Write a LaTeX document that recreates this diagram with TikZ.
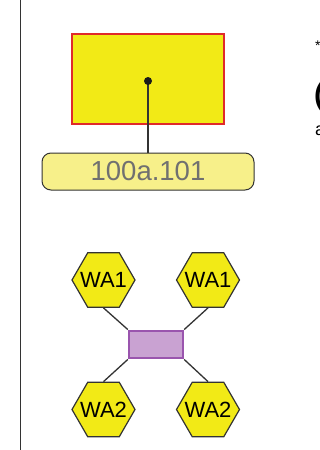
\documentclass[tikz,border=0pt]{standalone}
\usepackage{fontspec}
\setmainfont{Liberation Sans}
\usetikzlibrary{shapes.geometric}
\definecolor{boxyellow}{HTML}{F2EA16}
\definecolor{boxred}{HTML}{E02A2A}
\definecolor{labyellow}{HTML}{F7F08A}
\definecolor{labtext}{HTML}{707070}
\definecolor{purfill}{HTML}{C9A2D2}
\definecolor{purdraw}{HTML}{9A55AE}
\definecolor{edgegray}{HTML}{333333}
\tikzset{
  hexnode/.style={regular polygon, regular polygon sides=6, minimum size=63pt, inner sep=0pt,
    fill=boxyellow, draw=edgegray, line width=1.2pt,
    label={[font=\fontsize{22}{22}\selectfont, inner sep=0pt]center:#1}},
  link/.style={draw=edgegray, line width=1.3pt},
}
\begin{document}
\begin{tikzpicture}[x=1pt,y=-1pt]
\useasboundingbox (0,0) rectangle (320,450);
\clip (0,0) rectangle (320,450);
\fill[white] (0,0) rectangle (320,450);
\draw[edgegray, line width=1pt] (20,0) -- (20,450);
% top group
\node[draw=boxred, fill=boxyellow, line width=2pt, minimum width=152pt, minimum height=90pt, inner sep=0pt] (box) at (148,79) {};
\node[draw=edgegray, fill=labyellow, line width=1pt, rounded corners=9pt, minimum width=212pt, minimum height=37pt, inner sep=0pt, text=labtext, font=\fontsize{27.5}{27.5}\selectfont] (lab) at (148,171.5) {100a.101};
\coordinate (dot) at (148,81);
\draw[link] (dot) -- (lab.north);
\fill[black!90] (dot) circle (4pt);
% bottom group
\node[draw=purdraw, fill=purfill, line width=2.4pt, minimum width=54pt, minimum height=27.5pt, inner sep=0pt] (hub) at (156,344.5) {};
\node[hexnode=WA1] (h1) at (103.5,280) {};
\node[hexnode=WA1] (h2) at (208,280) {};
\node[hexnode=WA2] (h3) at (103.5,409.5) {};
\node[hexnode=WA2] (h4) at (208,409.5) {};
\draw[link] (h1.south) -- (hub.north west);
\draw[link] (h2.south) -- (hub.north east);
\draw[link] (h3.north) -- (hub.south west);
\draw[link] (h4.north) -- (hub.south east);
% cut-off text at right edge
\node[anchor=west, inner sep=0pt, font=\fontsize{14}{14}\selectfont] (t1) at (315,46) {*};
\node[anchor=west, inner sep=0pt, font=\bfseries\fontsize{30}{30}\selectfont] (t2) at (314,97) {(};
\node[anchor=west, inner sep=0pt, font=\fontsize{18}{18}\selectfont] (t3) at (315,131) {a};
\end{tikzpicture}
\end{document}
